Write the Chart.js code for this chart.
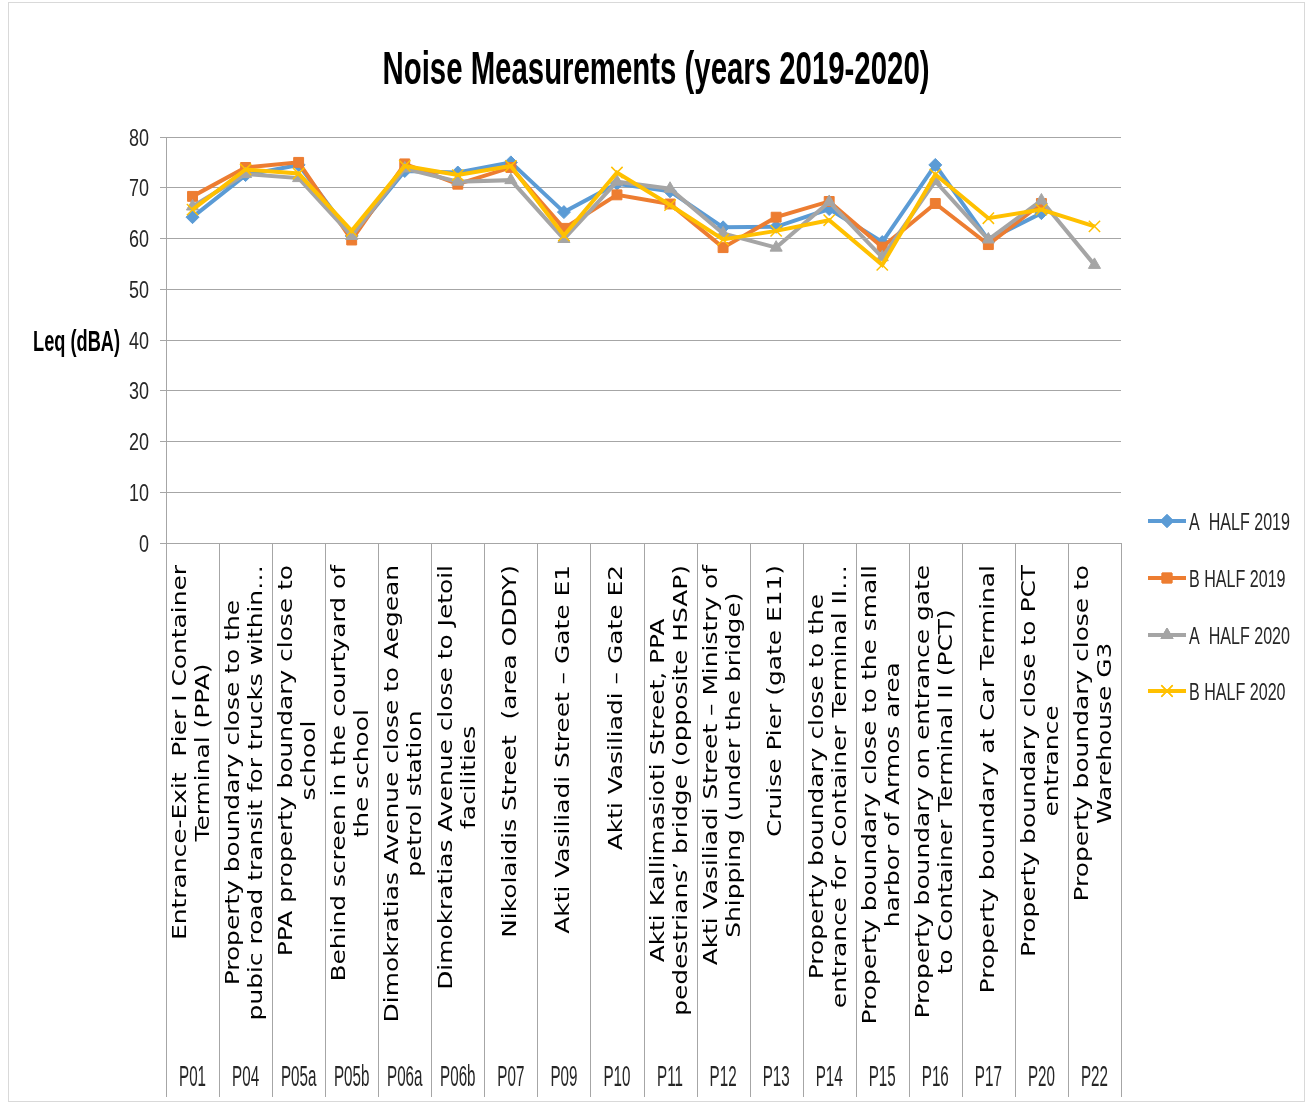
<!DOCTYPE html>
<html>
<head>
<meta charset="utf-8">
<script src="https://cdn.jsdelivr.net/npm/chart.js@4.4.1/dist/chart.umd.min.js"></script>
<style>
  html, body { margin: 0; padding: 0; background: #ffffff; }
  canvas { display: block; }
</style>
</head>
<body>
<canvas id="c" width="1309" height="1104"></canvas>
<script>
// ---------------- DATA ----------------
const chartTitle = 'Noise Measurements (years 2019-2020)';
const yAxisTitle = 'Leq (dBA)';

const pointCodes = ['P01', 'P04', 'P05a', 'P05b', 'P06a', 'P06b', 'P07', 'P09', 'P10',
  'P11', 'P12', 'P13', 'P14', 'P15', 'P16', 'P17', 'P20', 'P22'];

const pointDescriptions = [
  ['Entrance-Exit  Pier I Container', 'Terminal (PPA)'],
  ['Property boundary close to the', 'pubic road transit for trucks within\u2026'],
  ['PPA property boundary close to', 'school'],
  ['Behind screen in the courtyard of', 'the school'],
  ['Dimokratias Avenue close to Aegean', 'petrol station'],
  ['Dimokratias Avenue close to Jetoil', 'facilities'],
  ['Nikolaidis Street  (area ODDY)'],
  ['Akti Vasiliadi Street \u2013 Gate E1'],
  ['Akti Vasiliadi \u2013 Gate E2'],
  ['Akti Kallimasioti Street, PPA', 'pedestrians\u2019 bridge (opposite HSAP)'],
  ['Akti Vasiliadi Street \u2013 Ministry of', 'Shipping (under the bridge)'],
  ['Cruise Pier (gate E11)'],
  ['Property boundary close to the', 'entrance for Container Terminal II\u2026'],
  ['Property boundary close to the small', 'harbor of Armos area'],
  ['Property boundary on entrance gate', 'to Container Terminal II (PCT)'],
  ['Property boundary at Car Terminal'],
  ['Property boundary close to PCT', 'entrance'],
  ['Property boundary close to', 'Warehouse G3']
];

const seriesNames = ['A  HALF 2019', 'B HALF 2019', 'A  HALF 2020', 'B HALF 2020'];

const aHalf2019 = [64.2, 72.5, 74.5, 60.5, 73.3, 73.0, 75.0, 65.2, 70.8, 69.3, 62.2, 62.3, 65.8, 59.3, 74.5, 59.7, 65.0, null];
const bHalf2019 = [68.3, 74.0, 75.0, 59.7, 74.7, 70.7, 74.0, 62.0, 68.6, 66.8, 58.2, 64.2, 67.3, 58.3, 66.9, 58.8, 66.9, null];
const aHalf2020 = [66.3, 72.7, 71.9, 60.5, 73.8, 71.2, 71.5, 59.9, 71.2, 69.8, 61.0, 58.2, 67.2, 56.3, 71.3, 59.8, 67.5, 54.8];
const bHalf2020 = [65.7, 73.6, 72.8, 61.5, 74.3, 72.5, 74.3, 60.6, 73.0, 66.6, 59.8, 61.5, 63.6, 54.8, 72.6, 64.0, 65.7, 62.4];

const yMin = 0, yMax = 80, yStep = 10;

// ---------------- STYLE ----------------
const COND = '"Liberation Sans Narrow", "Liberation Sans", Arial, sans-serif';
const colors = ['#5B9BD5', '#ED7D31', '#A5A5A5', '#FFC000'];
const pointStyles = ['rectRot', 'rect', 'triangle', 'crossRot'];
const pointRadii = [6.5, 7, 7, 8];
const seriesData = [aHalf2019, bHalf2019, aHalf2020, bHalf2020];

function fitScale(ctx, text, size, weight, target) {
  ctx.save();
  ctx.font = weight + ' ' + size + 'px ' + COND;
  const w = ctx.measureText(text).width;
  ctx.restore();
  return target / w;
}
function condText(ctx, text, x, y, size, weight, sx, align, color) {
  ctx.save();
  ctx.font = weight + ' ' + size + 'px ' + COND;
  ctx.fillStyle = color;
  ctx.textBaseline = 'alphabetic';
  ctx.textAlign = 'left';
  const w = ctx.measureText(text).width * sx;
  const x0 = align === 'center' ? x - w / 2 : (align === 'right' ? x - w : x);
  ctx.translate(x0, y);
  ctx.scale(sx, 1);
  ctx.fillText(text, 0, 0);
  ctx.restore();
}
function drawMarker(ctx, style, r, color, x, y) {
  ctx.save();
  ctx.fillStyle = color;
  ctx.strokeStyle = color;
  ctx.lineWidth = style === 'crossRot' ? 1.5 : 1;
  if (Chart.helpers && Chart.helpers.drawPoint) {
    Chart.helpers.drawPoint(ctx, { pointStyle: style, radius: r, rotation: 0, borderWidth: ctx.lineWidth }, x, y);
    if (style !== 'crossRot') ctx.fill();
    ctx.stroke();
  }
  ctx.restore();
}

const decorPlugin = {
  id: 'decor',
  afterDraw(chart) {
    const ctx = chart.ctx;
    const area = chart.chartArea;
    const xs = chart.scales.x;
    const ys = chart.scales.y;
    const n = pointCodes.length;
    const colW = (area.right - area.left) / n;

    // outer frame
    ctx.save();
    ctx.strokeStyle = '#d9d9d9';
    ctx.lineWidth = 1;
    ctx.strokeRect(8.5, 2.5, 1296, 1099);
    ctx.restore();

    // title
    const tsx = fitScale(ctx, chartTitle, 46, 'bold', 547);
    condText(ctx, chartTitle, 656, 84, 46, 'bold', tsx, 'center', '#000000');

    // y axis title (horizontal)
    const ysx = fitScale(ctx, yAxisTitle, 29, 'bold', 87);
    condText(ctx, yAxisTitle, 33, 351, 29, 'bold', ysx, 'left', '#000000');

    // y tick labels
    const tksx = fitScale(ctx, '80', 24, 'normal', 20);
    for (let v = yMin; v <= yMax; v += yStep) {
      condText(ctx, String(v), 149, ys.getPixelForValue(v) + 8.5, 24, 'normal', tksx, 'right', '#262626');
    }

    // category table dividers
    ctx.save();
    ctx.strokeStyle = '#a6a6a6';
    ctx.lineWidth = 1;
    for (let i = 0; i <= n; i++) {
      const x = Math.round(area.left + i * colW) + 0.5;
      ctx.beginPath();
      ctx.moveTo(x, area.bottom);
      ctx.lineTo(x, 1097);
      ctx.stroke();
    }
    ctx.restore();

    // rotated descriptions
    ctx.save();
    ctx.font = '20px "DejaVu Sans", Verdana, sans-serif';
    ctx.fillStyle = '#000000';
    ctx.textAlign = 'center';
    ctx.textBaseline = 'middle';
    const lenScale = 375 / ctx.measureText(pointDescriptions[0][0]).width;
    for (let i = 0; i < n; i++) {
      const cx = xs.getPixelForValue(i);
      const lines = pointDescriptions[i];
      let maxW = 0;
      lines.forEach(l => { maxW = Math.max(maxW, ctx.measureText(l).width * lenScale); });
      const cy = 565 + maxW / 2;
      lines.forEach((l, j) => {
        const lx = cx + (j - (lines.length - 1) / 2) * 23;
        ctx.save();
        ctx.translate(lx, cy);
        ctx.rotate(-Math.PI / 2);
        ctx.scale(lenScale, 1);
        ctx.fillText(l, 0, 0);
        ctx.restore();
      });
    }
    ctx.restore();

    // point codes
    const csx = fitScale(ctx, 'P01', 29, 'normal', 27);
    for (let i = 0; i < n; i++) {
      condText(ctx, pointCodes[i], xs.getPixelForValue(i), 1086, 29, 'normal', csx, 'center', '#262626');
    }

    // legend
    const lsx = fitScale(ctx, seriesNames[0], 24, 'normal', 101);
    const legY = [521, 578, 635, 691];
    for (let k = 0; k < 4; k++) {
      const y = legY[k];
      ctx.save();
      ctx.strokeStyle = colors[k];
      ctx.lineWidth = 4;
      ctx.beginPath();
      ctx.moveTo(1148, y);
      ctx.lineTo(1186, y);
      ctx.stroke();
      ctx.restore();
      drawMarker(ctx, pointStyles[k], pointRadii[k], colors[k], 1167, y);
      condText(ctx, seriesNames[k], 1189, y + 9, 24, 'normal', lsx, 'left', '#262626');
    }
  }
};

const datasets = seriesNames.map((name, k) => ({
  label: name,
  data: seriesData[k],
  borderColor: colors[k],
  backgroundColor: colors[k],
  borderWidth: 4,
  pointStyle: pointStyles[k],
  pointRadius: pointRadii[k],
  pointBackgroundColor: colors[k],
  pointBorderColor: colors[k],
  pointBorderWidth: k === 3 ? 1.5 : 1,
  tension: 0,
  spanGaps: false,
  order: 4 - k
}));

new Chart(document.getElementById('c'), {
  type: 'line',
  data: { labels: pointCodes, datasets: datasets },
  options: {
    responsive: false,
    devicePixelRatio: 1,
    animation: false,
    events: [],
    layout: { padding: { top: 137, left: 0, right: 188, bottom: 561 } },
    plugins: { legend: { display: false }, tooltip: { enabled: false }, title: { display: false } },
    scales: {
      x: { type: 'category', display: false, offset: true },
      y: {
        min: yMin, max: yMax,
        ticks: { stepSize: yStep, display: false },
        grid: { color: '#a6a6a6', lineWidth: 1, tickLength: 6, drawTicks: true },
        border: { color: '#a6a6a6', width: 1 },
        afterFit(scale) { scale.width = 166; }
      }
    }
  },
  plugins: [decorPlugin]
});
</script>
</body>
</html>
